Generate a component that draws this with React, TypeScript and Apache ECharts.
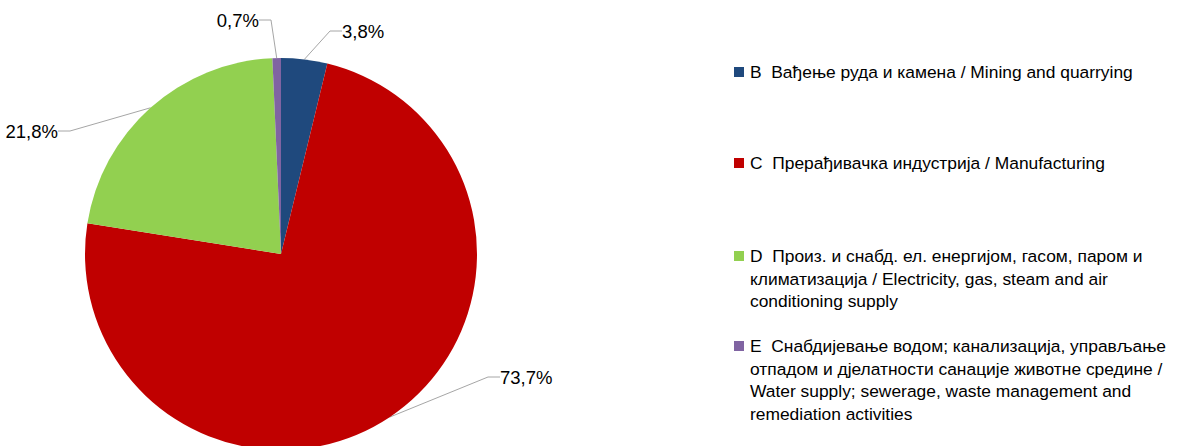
import React, { useEffect, useRef } from "react";
import * as echarts from "echarts";

const CATEGORIES = [
  "B  Вађење руда и камена / Mining and quarrying",
  "C  Прерађивачка индустрија / Manufacturing",
  "D  Произ. и снабд. ел. енергијом, гасом, паром и\nклиматизација / Electricity, gas, steam and air\nconditioning supply",
  "E  Снабдијевање водом; канализација, управљање\nотпадом и дјелатности санације животне средине /\nWater supply; sewerage, waste management and\nremediation activities",
];
const SHARES = [3.8, 73.7, 21.8, 0.7];
const COLORS = ["#1F497D", "#C00000", "#92D050", "#8064A2"];

// layout only (label anchors and legend rows)
const LABEL_ANCHORS: [number, number, "left" | "right"][] = [
  [342, 31, "left"],
  [500, 377, "left"],
  [58, 131, "right"],
  [259, 20, "right"],
];
const LEGEND_ROWS = [72, 163, 256, 346];

const FONT = "'Liberation Sans', Arial, sans-serif";

export default function App() {
  const ref = useRef<HTMLDivElement>(null);
  useEffect(() => {
    document.body.style.margin = "0";
    if (!ref.current) return;
    const chart = echarts.init(ref.current, null, { renderer: "svg" });
    const graphic: any[] = [];
    CATEGORIES.forEach((name, i) => {
      graphic.push({
        type: "rect",
        left: 734,
        top: LEGEND_ROWS[i] - 5,
        shape: { width: 10, height: 10 },
        style: { fill: COLORS[i] },
      });
      graphic.push({
        type: "text",
        left: 750,
        top: LEGEND_ROWS[i] - 11,
        style: {
          text: name,
          font: `17.4px ${FONT}`,
          fill: "#000",
          lineHeight: 22.5,
        },
      });
    });
    chart.setOption({
      animation: false,
      graphic,
      series: [
        {
          type: "pie",
          center: [281, 254],
          radius: 196,
          startAngle: 90,
          clockwise: true,
          avoidLabelOverlap: false,
          data: CATEGORIES.map((name, i) => ({
            name,
            value: SHARES[i],
            itemStyle: { color: COLORS[i] },
          })),
          label: {
            show: true,
            position: "outside",
            formatter: (p: any) => `${p.value.toFixed(1).replace(".", ",")}%`,
            fontFamily: FONT,
            fontSize: 18.5,
            color: "#000",
          },
          labelLine: {
            show: true,
            length: 20,
            length2: 12,
            lineStyle: { color: "#A6A6A6", width: 1 },
          },
          labelLayout: (params: any) => {
            const a = LABEL_ANCHORS[params.dataIndex];
            return { x: a[0], y: a[1], align: a[2], verticalAlign: "middle" };
          },
          emphasis: { disabled: true },
        },
      ],
    });
    return () => chart.dispose();
  }, []);
  return <div ref={ref} style={{ width: 1184, height: 446 }} />;
}
